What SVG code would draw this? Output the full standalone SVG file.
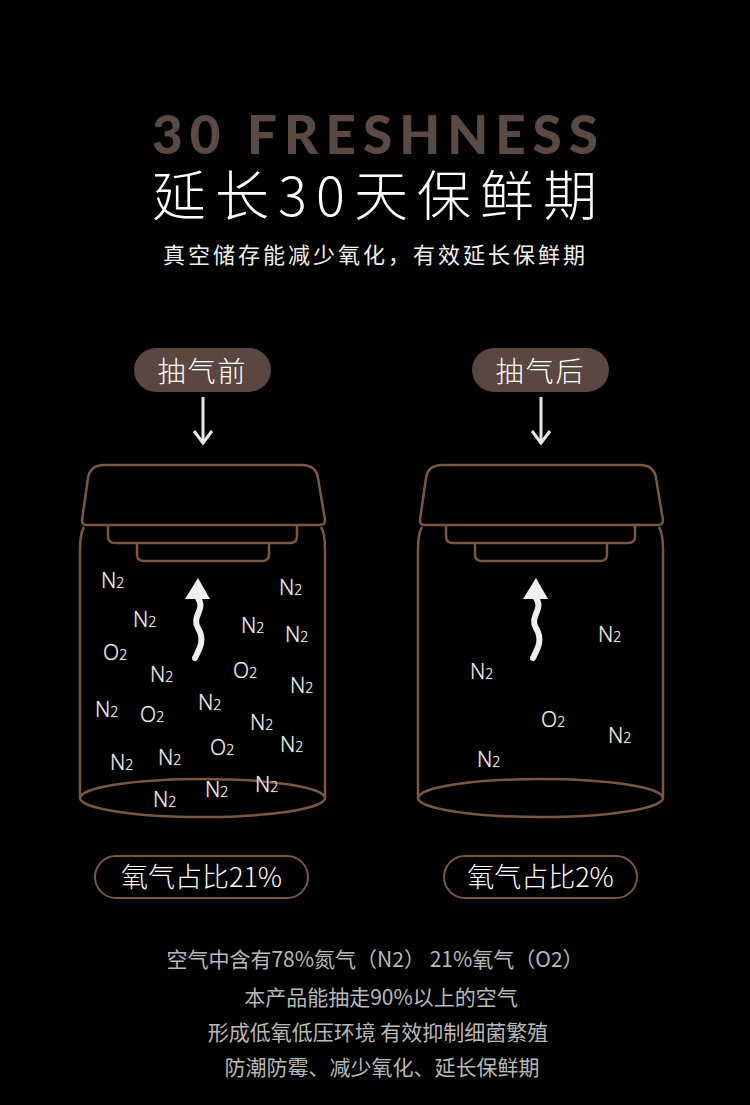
<svg xmlns="http://www.w3.org/2000/svg" width="750" height="1105" viewBox="0 0 750 1105">
<style>
.title{font-family:"Lato","Open Sans","Liberation Sans",sans-serif;font-weight:900;font-size:53px;fill:#5b4a44}
.cjk{font-family:"Noto Sans CJK SC",sans-serif}
.big{font-size:54px;font-weight:200;fill:#ffffff}
.sub{font-size:22px;font-weight:400;fill:#f0f0f0}
.pilltxt{font-size:28px;font-weight:300;fill:#ffffff}
.ratio{font-size:27px;font-weight:300;fill:#ffffff}
.foot{font-size:21px;font-weight:400;fill:#b8b8b8}
.jar{fill:none;stroke:#7b5640;stroke-width:2.5;stroke-linejoin:round}
.pill{fill:#5b4740}
.pillo{fill:none;stroke:#7b5640;stroke-width:2}
.mol{font-family:"Noto Sans","Liberation Sans",sans-serif;font-weight:300;font-size:21px;fill:#f2f2f2;stroke:#555;stroke-width:0.6;paint-order:stroke}
.mol tspan{font-size:14px}
.arr{stroke:#e8e8e8;stroke-width:3;fill:none}
.wave{stroke:#eeeeee;stroke-width:6;fill:none;stroke-linecap:round}
</style>
<defs>
<g id="jarShape">
<path class="jar" d="M 86 525 Q 82 525 82 520 L 88 478 Q 90 465 104 465 L 302 465 Q 316 465 318 478 L 325 520 Q 325 525 320 525 Z"/>
<path class="jar" d="M 108 525 L 108 536 Q 108 543 115 543 L 290 543 Q 297 543 297 536 L 297 525"/>
<path class="jar" d="M 137 543 L 137 554 Q 137 561 144 561 L 262 561 Q 269 561 269 554 L 269 543"/>
<path class="jar" d="M 84 527 Q 80 533 80 550 L 80 798"/>
<path class="jar" d="M 321 527 Q 325 533 325 550 L 325 798"/>
<ellipse class="jar" cx="202.5" cy="798" rx="122.5" ry="19"/>
<path fill="#f0f0f0" d="M 198 578 L 185 599 L 210 599 Z"/>
<path class="wave" d="M 198 598 C 206 610 191 616 198 628 C 205 640 200 648 195 658"/>
</g>
</defs>
<rect x="0" y="0" width="750" height="1105" fill="#000000"/>

<g id="header">
<text class="title" x="152" y="154" textLength="446" lengthAdjust="spacing">30 FRESHNESS</text>
<text class="cjk big" x="152" y="216" textLength="445" lengthAdjust="spacing">延长30天保鲜期</text>
<text class="cjk sub" x="163" y="263" textLength="422" lengthAdjust="spacing">真空储存能减少氧化，有效延长保鲜期</text>
</g>

<g id="label-before">
<rect class="pill" x="134" y="348" width="137" height="44" rx="22"/>
<text class="cjk pilltxt" x="202.5" y="382" text-anchor="middle" letter-spacing="2">抽气前</text>
</g>
<g id="label-after">
<rect class="pill" x="472" y="348" width="137" height="44" rx="22"/>
<text class="cjk pilltxt" x="540.5" y="382" text-anchor="middle" letter-spacing="2">抽气后</text>
</g>

<g id="connectors">
<line class="arr" x1="203" y1="397" x2="203" y2="443"/>
<polyline class="arr" points="194,431 203,443 212,431"/>
<line class="arr" x1="541" y1="397" x2="541" y2="443"/>
<polyline class="arr" points="532,431 541,443 550,431"/>
</g>

<g id="jar-before">
<use href="#jarShape"/>
<text class="mol" x="101" y="588">N<tspan>2</tspan></text>
<text class="mol" x="279" y="595">N<tspan>2</tspan></text>
<text class="mol" x="133" y="627">N<tspan>2</tspan></text>
<text class="mol" x="241" y="633">N<tspan>2</tspan></text>
<text class="mol" x="285" y="642">N<tspan>2</tspan></text>
<text class="mol" x="103" y="660">O<tspan>2</tspan></text>
<text class="mol" x="150" y="682">N<tspan>2</tspan></text>
<text class="mol" x="233" y="678">O<tspan>2</tspan></text>
<text class="mol" x="290" y="693">N<tspan>2</tspan></text>
<text class="mol" x="95" y="717">N<tspan>2</tspan></text>
<text class="mol" x="140" y="722">O<tspan>2</tspan></text>
<text class="mol" x="198" y="710">N<tspan>2</tspan></text>
<text class="mol" x="250" y="730">N<tspan>2</tspan></text>
<text class="mol" x="280" y="752">N<tspan>2</tspan></text>
<text class="mol" x="210" y="755">O<tspan>2</tspan></text>
<text class="mol" x="110" y="770">N<tspan>2</tspan></text>
<text class="mol" x="158" y="765">N<tspan>2</tspan></text>
<text class="mol" x="255" y="792">N<tspan>2</tspan></text>
<text class="mol" x="205" y="797">N<tspan>2</tspan></text>
<text class="mol" x="153" y="807">N<tspan>2</tspan></text>
</g>

<g id="jar-after">
<use href="#jarShape" transform="translate(338,0)"/>
<text class="mol" x="598" y="642">N<tspan>2</tspan></text>
<text class="mol" x="470" y="679">N<tspan>2</tspan></text>
<text class="mol" x="541" y="727">O<tspan>2</tspan></text>
<text class="mol" x="608" y="743">N<tspan>2</tspan></text>
<text class="mol" x="477" y="767">N<tspan>2</tspan></text>
</g>

<g id="ratio-before">
<rect class="pillo" x="95" y="856" width="213" height="42" rx="21"/>
<text class="cjk ratio" x="201.5" y="887" text-anchor="middle">氧气占比21%</text>
</g>
<g id="ratio-after">
<rect class="pillo" x="444" y="856" width="193" height="42" rx="21"/>
<text class="cjk ratio" x="540.5" y="887" text-anchor="middle">氧气占比2%</text>
</g>

<g id="footer">
<text class="cjk foot" x="375" y="967" text-anchor="middle">空气中含有78%氮气（N2） 21%氧气（O2）</text>
<text class="cjk foot" x="381" y="1005" text-anchor="middle">本产品能抽走90%以上的空气</text>
<text class="cjk foot" x="378" y="1040" text-anchor="middle">形成低氧低压环境 有效抑制细菌繁殖</text>
<text class="cjk foot" x="382" y="1075" text-anchor="middle">防潮防霉、减少氧化、延长保鲜期</text>
</g>
</svg>
